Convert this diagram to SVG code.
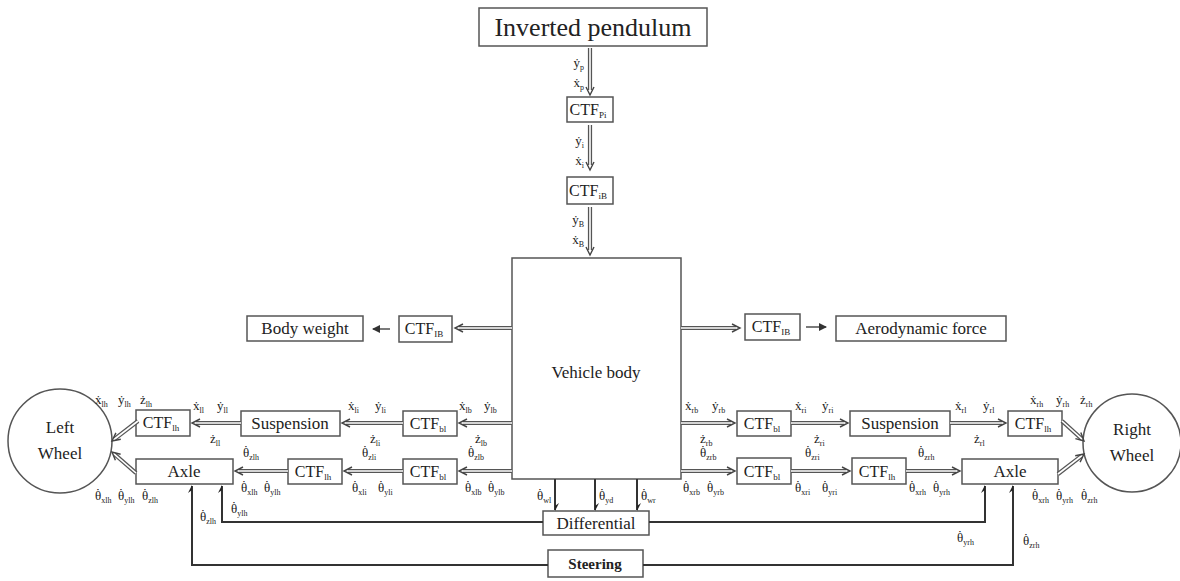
<svg xmlns="http://www.w3.org/2000/svg" width="1180" height="581" viewBox="0 0 1180 581">
<style>
text{font-family:"Liberation Serif","Times New Roman",serif;fill:#222}
.box{fill:#fff;stroke:#555;stroke-width:1.5}
.big{font-size:26px}
.nm{font-size:17px}
.ctf{font-size:16px}
.cs{font-size:9px}
.lb{font-size:13px}
.s{font-size:8px}
.o{stroke:#555;stroke-width:4.2;fill:none}
.i{stroke:#fff;stroke-width:1.6;fill:none}
.h{stroke:#444;stroke-width:1.4;fill:none}
.ln{stroke:#333;stroke-width:2;fill:none}
.sl{stroke:#333;stroke-width:1.3;fill:none}
</style>
<defs>
<marker id="ah" markerWidth="8" markerHeight="8" refX="7" refY="4" orient="auto" markerUnits="userSpaceOnUse">
<path d="M0,0 L8,4 L0,8 Z" fill="#333"/>
</marker>
<marker id="hh" markerWidth="8" markerHeight="8" refX="7" refY="4" orient="auto" markerUnits="userSpaceOnUse">
<path d="M0,0 L8,4 L3,4 Z" fill="#222"/>
</marker>
</defs>

<!-- nodes -->
<g id="pendulum"><rect class="box" x="479" y="8" width="228" height="38"/><text class="big" x="593" y="36" text-anchor="middle">Inverted pendulum</text></g>
<g id="ctf-pi"><rect class="box" x="567" y="97" width="46" height="25"/><text class="ctf" x="588" y="115" text-anchor="middle">CTF<tspan class="cs" dy="3">Pi</tspan></text></g>
<g id="ctf-ib-top"><rect class="box" x="567" y="177" width="46" height="27"/><text class="ctf" x="588" y="196" text-anchor="middle">CTF<tspan class="cs" dy="3">iB</tspan></text></g>
<g id="body"><rect class="box" x="512" y="258" width="169" height="221"/><text class="nm" x="596" y="378" text-anchor="middle">Vehicle body</text></g>
<g id="body-weight"><rect class="box" x="247" y="316" width="116" height="25"/><text class="nm" x="305" y="334" text-anchor="middle">Body weight</text></g>
<g id="ctf-ib-left"><rect class="box" x="399" y="316" width="53" height="26"/><text class="ctf" x="424" y="334" text-anchor="middle">CTF<tspan class="cs" dy="3">IB</tspan></text></g>
<g id="ctf-ib-right"><rect class="box" x="745" y="314" width="55" height="26"/><text class="ctf" x="771" y="332" text-anchor="middle">CTF<tspan class="cs" dy="3">IB</tspan></text></g>
<g id="aero"><rect class="box" x="836" y="316" width="170" height="25"/><text class="nm" x="921" y="334" text-anchor="middle">Aerodynamic force</text></g>

<g id="left-wheel"><circle class="box" cx="60" cy="441" r="52"/><text class="nm" x="60" y="433" text-anchor="middle">Left</text><text class="nm" x="60" y="459" text-anchor="middle">Wheel</text></g>
<g id="right-wheel"><circle class="box" cx="1132" cy="443" r="49"/><text class="nm" x="1132" y="435" text-anchor="middle">Right</text><text class="nm" x="1132" y="461" text-anchor="middle">Wheel</text></g>

<g id="ctf-lh-up"><rect class="box" x="136" y="410" width="54" height="26"/><text class="ctf" x="161" y="428" text-anchor="middle">CTF<tspan class="cs" dy="3">lh</tspan></text></g>
<g id="susp-left"><rect class="box" x="241" y="411" width="99" height="25"/><text class="nm" x="290" y="429" text-anchor="middle">Suspension</text></g>
<g id="ctf-bl-up-left"><rect class="box" x="403" y="411" width="54" height="25"/><text class="ctf" x="428" y="429" text-anchor="middle">CTF<tspan class="cs" dy="3">bl</tspan></text></g>
<g id="axle-left"><rect class="box" x="136" y="459" width="97" height="25"/><text class="nm" x="184" y="477" text-anchor="middle">Axle</text></g>
<g id="ctf-lh-low-left"><rect class="box" x="288" y="459" width="54" height="25"/><text class="ctf" x="313" y="477" text-anchor="middle">CTF<tspan class="cs" dy="3">lh</tspan></text></g>
<g id="ctf-bl-low-left"><rect class="box" x="403" y="459" width="54" height="25"/><text class="ctf" x="428" y="477" text-anchor="middle">CTF<tspan class="cs" dy="3">bl</tspan></text></g>

<g id="ctf-bl-up-right"><rect class="box" x="737" y="411" width="54" height="25"/><text class="ctf" x="762" y="429" text-anchor="middle">CTF<tspan class="cs" dy="3">bl</tspan></text></g>
<g id="susp-right"><rect class="box" x="850" y="411" width="100" height="25"/><text class="nm" x="900" y="429" text-anchor="middle">Suspension</text></g>
<g id="ctf-lh-up-right"><rect class="box" x="1008" y="411" width="54" height="25"/><text class="ctf" x="1033" y="429" text-anchor="middle">CTF<tspan class="cs" dy="3">lh</tspan></text></g>
<g id="ctf-bl-low-right"><rect class="box" x="737" y="458" width="54" height="26"/><text class="ctf" x="762" y="477" text-anchor="middle">CTF<tspan class="cs" dy="3">bl</tspan></text></g>
<g id="ctf-lh-low-right"><rect class="box" x="852" y="458" width="54" height="26"/><text class="ctf" x="877" y="477" text-anchor="middle">CTF<tspan class="cs" dy="3">lh</tspan></text></g>
<g id="axle-right"><rect class="box" x="962" y="459" width="96" height="25"/><text class="nm" x="1010" y="477" text-anchor="middle">Axle</text></g>

<g id="differential"><rect class="box" x="543" y="511" width="106" height="24"/><text class="nm" x="596" y="529" text-anchor="middle">Differential</text></g>
<g id="steering"><rect class="box" x="548" y="550" width="95" height="27"/><text x="595" y="569" text-anchor="middle" font-size="15" font-weight="bold">Steering</text></g>

<!-- connectors -->
<g id="connectors">
<path class="o" d="M590,48 V90"/><path class="i" d="M590,48 V91"/><path class="h" d="M586,87 L590,95 L594,87"/>
<path class="o" d="M590,125 V165"/><path class="i" d="M590,125 V166"/><path class="h" d="M586,162 L590,170 L594,162"/>
<path class="o" d="M590,207 V250"/><path class="i" d="M590,207 V251"/><path class="h" d="M586,247 L590,255 L594,247"/>
<path class="o" d="M512,328 H459"/><path class="i" d="M512,328 H458"/><path class="h" d="M463,324 L455,328 L463,332"/>
<path class="o" d="M681,328 H736"/><path class="i" d="M681,328 H737"/><path class="h" d="M732,324 L740,328 L732,332"/>
<path class="sl" d="M390,329 H373" marker-end="url(#ah)"/>
<path class="sl" d="M806,327 H826" marker-end="url(#ah)"/>
<path class="o" d="M512,423 H463"/><path class="i" d="M512,423 H462"/><path class="h" d="M467,419 L459,423 L467,427"/>
<path class="o" d="M403,423 H346"/><path class="i" d="M403,423 H345"/><path class="h" d="M350,419 L342,423 L350,427"/>
<path class="o" d="M241,423 H196"/><path class="i" d="M241,423 H195"/><path class="h" d="M200,419 L192,423 L200,427"/>
<path class="o" d="M138,421 L114.4,439.2"/><path class="i" d="M138,421 L114,439.5"/><path class="h" d="M120.8,439.3 L112,441 L115.9,432.9"/>
<path class="o" d="M512,471 H463"/><path class="i" d="M512,471 H462"/><path class="h" d="M467,467 L459,471 L467,475"/>
<path class="o" d="M403,471 H348"/><path class="i" d="M403,471 H347"/><path class="h" d="M352,467 L344,471 L352,475"/>
<path class="o" d="M288,471 H239"/><path class="i" d="M288,471 H238"/><path class="h" d="M243,467 L235,471 L243,475"/>
<path class="o" d="M136,473 L114.3,454"/><path class="i" d="M136,473 L114,453.8"/><path class="h" d="M120.6,454.3 L112,452 L115.4,460.3"/>
<path class="o" d="M681,423 H731"/><path class="i" d="M681,423 H732"/><path class="h" d="M727,419 L735,423 L727,427"/>
<path class="o" d="M791,423 H844"/><path class="i" d="M791,423 H845"/><path class="h" d="M840,419 L848,423 L840,427"/>
<path class="o" d="M950,423 H1002"/><path class="i" d="M950,423 H1003"/><path class="h" d="M998,419 L1006,423 L998,427"/>
<path class="o" d="M1062,421 L1081.8,439"/><path class="i" d="M1062,421 L1082,439.2"/><path class="h" d="M1075.4,438.6 L1084,441 L1080.8,432.6"/>
<path class="o" d="M681,471 H731"/><path class="i" d="M681,471 H732"/><path class="h" d="M727,467 L735,471 L727,475"/>
<path class="o" d="M791,471 H846"/><path class="i" d="M791,471 H847"/><path class="h" d="M842,467 L850,471 L842,475"/>
<path class="o" d="M906,471 H956"/><path class="i" d="M906,471 H957"/><path class="h" d="M952,467 L960,471 L952,475"/>
<path class="o" d="M1058,474 L1081.6,455.8"/><path class="i" d="M1058,474 L1082,455.5"/><path class="h" d="M1080.1,462.1 L1084,454 L1075.2,455.7"/>
<path class="ln" d="M555,479 V510" marker-end="url(#hh)"/>
<path class="ln" d="M595,479 V510" marker-end="url(#hh)"/>
<path class="ln" d="M637,479 V510" marker-end="url(#hh)"/>
<path class="ln" d="M543,522 H222 V486" marker-end="url(#hh)"/>
<path class="ln" d="M649,522 H985 V486" marker-end="url(#hh)"/>
<path class="ln" d="M548,565 H192 V486" marker-end="url(#hh)"/>
<path class="ln" d="M643,565 H1013 V486" marker-end="url(#hh)"/>
</g>

<!-- labels -->
<g id="labels">
<text class="lb" x="584" y="67" text-anchor="end">ẏ<tspan class="s" dy="3">p</tspan></text>
<text class="lb" x="584" y="87" text-anchor="end">ẋ<tspan class="s" dy="3">p</tspan></text>
<text class="lb" x="584" y="145" text-anchor="end">ẏ<tspan class="s" dy="3">i</tspan></text>
<text class="lb" x="584" y="165" text-anchor="end">ẋ<tspan class="s" dy="3">i</tspan></text>
<text class="lb" x="584" y="224" text-anchor="end">ẏ<tspan class="s" dy="3">B</tspan></text>
<text class="lb" x="584" y="244" text-anchor="end">ẋ<tspan class="s" dy="3">B</tspan></text>

<text class="lb" x="95" y="404">ẋ<tspan class="s" dy="3">lh</tspan></text>
<text class="lb" x="118" y="404">ẏ<tspan class="s" dy="3">lh</tspan></text>
<text class="lb" x="140" y="404">ż<tspan class="s" dy="3">lh</tspan></text>
<text class="lb" x="193" y="410">ẋ<tspan class="s" dy="3">ll</tspan></text>
<text class="lb" x="217" y="410">ẏ<tspan class="s" dy="3">ll</tspan></text>
<text class="lb" x="210" y="443">ż<tspan class="s" dy="3">ll</tspan></text>
<text class="lb" x="348" y="410">ẋ<tspan class="s" dy="3">li</tspan></text>
<text class="lb" x="375" y="410">ẏ<tspan class="s" dy="3">li</tspan></text>
<text class="lb" x="370" y="443">ż<tspan class="s" dy="3">li</tspan></text>
<text class="lb" x="459" y="410">ẋ<tspan class="s" dy="3">lb</tspan></text>
<text class="lb" x="484" y="410">ẏ<tspan class="s" dy="3">lb</tspan></text>
<text class="lb" x="475" y="443">ż<tspan class="s" dy="3">lb</tspan></text>

<text class="lb" x="243" y="457">θ<tspan dx="-5.5" dy="-3">˙</tspan><tspan class="s" dx="1.2" dy="6">zlh</tspan></text>
<text class="lb" x="241" y="492">θ<tspan dx="-5.5" dy="-3">˙</tspan><tspan class="s" dx="1.2" dy="6">xlh</tspan></text>
<text class="lb" x="264" y="492">θ<tspan dx="-5.5" dy="-3">˙</tspan><tspan class="s" dx="1.2" dy="6">ylh</tspan></text>
<text class="lb" x="362" y="457">θ<tspan dx="-5.5" dy="-3">˙</tspan><tspan class="s" dx="1.2" dy="6">zli</tspan></text>
<text class="lb" x="352" y="492">θ<tspan dx="-5.5" dy="-3">˙</tspan><tspan class="s" dx="1.2" dy="6">xli</tspan></text>
<text class="lb" x="378" y="492">θ<tspan dx="-5.5" dy="-3">˙</tspan><tspan class="s" dx="1.2" dy="6">yli</tspan></text>
<text class="lb" x="468" y="457">θ<tspan dx="-5.5" dy="-3">˙</tspan><tspan class="s" dx="1.2" dy="6">zlb</tspan></text>
<text class="lb" x="465" y="492">θ<tspan dx="-5.5" dy="-3">˙</tspan><tspan class="s" dx="1.2" dy="6">xlb</tspan></text>
<text class="lb" x="488" y="492">θ<tspan dx="-5.5" dy="-3">˙</tspan><tspan class="s" dx="1.2" dy="6">ylb</tspan></text>
<text class="lb" x="95" y="500">θ<tspan dx="-5.5" dy="-3">˙</tspan><tspan class="s" dx="1.2" dy="6">xlh</tspan></text>
<text class="lb" x="118" y="500">θ<tspan dx="-5.5" dy="-3">˙</tspan><tspan class="s" dx="1.2" dy="6">ylh</tspan></text>
<text class="lb" x="142" y="500">θ<tspan dx="-5.5" dy="-3">˙</tspan><tspan class="s" dx="1.2" dy="6">zlh</tspan></text>

<text class="lb" x="685" y="410">ẋ<tspan class="s" dy="3">rb</tspan></text>
<text class="lb" x="712" y="410">ẏ<tspan class="s" dy="3">rb</tspan></text>
<text class="lb" x="700" y="443">ż<tspan class="s" dy="3">rb</tspan></text>
<text class="lb" x="795" y="410">ẋ<tspan class="s" dy="3">ri</tspan></text>
<text class="lb" x="822" y="410">ẏ<tspan class="s" dy="3">ri</tspan></text>
<text class="lb" x="814" y="443">ż<tspan class="s" dy="3">ri</tspan></text>
<text class="lb" x="955" y="410">ẋ<tspan class="s" dy="3">rl</tspan></text>
<text class="lb" x="983" y="410">ẏ<tspan class="s" dy="3">rl</tspan></text>
<text class="lb" x="974" y="443">ż<tspan class="s" dy="3">rl</tspan></text>
<text class="lb" x="1030" y="404">ẋ<tspan class="s" dy="3">rh</tspan></text>
<text class="lb" x="1056" y="404">ẏ<tspan class="s" dy="3">rh</tspan></text>
<text class="lb" x="1080" y="404">ż<tspan class="s" dy="3">rh</tspan></text>

<text class="lb" x="700" y="457">θ<tspan dx="-5.5" dy="-3">˙</tspan><tspan class="s" dx="1.2" dy="6">zrb</tspan></text>
<text class="lb" x="683" y="492">θ<tspan dx="-5.5" dy="-3">˙</tspan><tspan class="s" dx="1.2" dy="6">xrb</tspan></text>
<text class="lb" x="707" y="492">θ<tspan dx="-5.5" dy="-3">˙</tspan><tspan class="s" dx="1.2" dy="6">yrb</tspan></text>
<text class="lb" x="805" y="457">θ<tspan dx="-5.5" dy="-3">˙</tspan><tspan class="s" dx="1.2" dy="6">zri</tspan></text>
<text class="lb" x="795" y="492">θ<tspan dx="-5.5" dy="-3">˙</tspan><tspan class="s" dx="1.2" dy="6">xri</tspan></text>
<text class="lb" x="822" y="492">θ<tspan dx="-5.5" dy="-3">˙</tspan><tspan class="s" dx="1.2" dy="6">yri</tspan></text>
<text class="lb" x="918" y="457">θ<tspan dx="-5.5" dy="-3">˙</tspan><tspan class="s" dx="1.2" dy="6">zrh</tspan></text>
<text class="lb" x="909" y="492">θ<tspan dx="-5.5" dy="-3">˙</tspan><tspan class="s" dx="1.2" dy="6">xrh</tspan></text>
<text class="lb" x="933" y="492">θ<tspan dx="-5.5" dy="-3">˙</tspan><tspan class="s" dx="1.2" dy="6">yrh</tspan></text>
<text class="lb" x="1032" y="500">θ<tspan dx="-5.5" dy="-3">˙</tspan><tspan class="s" dx="1.2" dy="6">xrh</tspan></text>
<text class="lb" x="1056" y="500">θ<tspan dx="-5.5" dy="-3">˙</tspan><tspan class="s" dx="1.2" dy="6">yrh</tspan></text>
<text class="lb" x="1081" y="500">θ<tspan dx="-5.5" dy="-3">˙</tspan><tspan class="s" dx="1.2" dy="6">zrh</tspan></text>

<text class="lb" x="537" y="500">θ<tspan dx="-5.5" dy="-3">˙</tspan><tspan class="s" dx="1.2" dy="6">wl</tspan></text>
<text class="lb" x="599" y="500">θ<tspan dx="-5.5" dy="-3">˙</tspan><tspan class="s" dx="1.2" dy="6">yd</tspan></text>
<text class="lb" x="641" y="500">θ<tspan dx="-5.5" dy="-3">˙</tspan><tspan class="s" dx="1.2" dy="6">wr</tspan></text>
<text class="lb" x="231" y="513">θ<tspan dx="-5.5" dy="-3">˙</tspan><tspan class="s" dx="1.2" dy="6">ylh</tspan></text>
<text class="lb" x="957" y="542">θ<tspan dx="-5.5" dy="-3">˙</tspan><tspan class="s" dx="1.2" dy="6">yrh</tspan></text>
<text class="lb" x="200" y="521">θ<tspan dx="-5.5" dy="-3">˙</tspan><tspan class="s" dx="1.2" dy="6">zlh</tspan></text>
<text class="lb" x="1023" y="545">θ<tspan dx="-5.5" dy="-3">˙</tspan><tspan class="s" dx="1.2" dy="6">zrh</tspan></text>
</g>
</svg>
